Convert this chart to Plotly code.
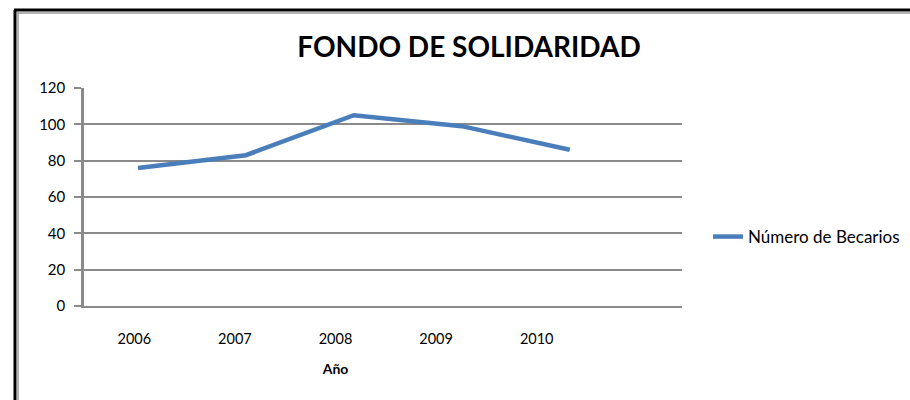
import plotly.graph_objects as go

years = ["2006", "2007", "2008", "2009", "2010"]
becarios = [76, 83, 105, 99, 86]
y_ticks = [0, 20, 40, 60, 80, 100, 120]

FONT = "Lato"
GRID = "#8a8a8a"
BLUE = "#4a7ebb"

# plot area in pixels (from the reference)
L, R, T, B = 84, 682, 88, 306
W, H = 910, 400


def px_x(px):
    return (px - L) / (R - L)


def px_y(py):
    return (B - py) / (B - T)


fig = go.Figure()
# category labels sit on their own (narrower) axis, as in the source chart
fig.add_trace(
    go.Scatter(
        x=years,
        y=becarios,
        xaxis="x",
        mode="markers",
        marker=dict(opacity=0),
        showlegend=False,
        hoverinfo="skip",
    )
)
fig.add_trace(
    go.Scatter(
        x=years,
        y=becarios,
        xaxis="x2",
        mode="lines",
        name="Número de Becarios",
        line=dict(color=BLUE, width=4.5),
    )
)

fig.update_layout(
    width=W,
    height=H,
    margin=dict(l=L, r=W - R, t=T, b=H - B, autoexpand=False),
    plot_bgcolor="rgba(0,0,0,0)",
    paper_bgcolor="white",
    font=dict(family=FONT, size=14, color="#000000"),
    title=dict(
        text="<b>FONDO DE SOLIDARIDAD</b>",
        font=dict(family=FONT, size=28, color="#000000"),
        x=469 / W,
        xanchor="center",
        y=1 - 47 / H,
        yanchor="middle",
    ),
    xaxis=dict(
        type="category",
        domain=[0, px_x(587)],
        range=[-0.5, 4.5],
        ticks="",
        ticklabelstandoff=22,
        showgrid=False,
        showline=False,
        zeroline=False,
        tickfont=dict(size=14.5),
        title=dict(text="<b>Año</b>", font=dict(size=14), standoff=18),
    ),
    xaxis2=dict(
        type="category",
        anchor="y",
        domain=[0, 1],
        range=[-0.5, 5.04],
        showticklabels=False,
        ticks="",
        showgrid=False,
        showline=True,
        linecolor=GRID,
        linewidth=2,
        zeroline=False,
    ),
    yaxis=dict(
        range=[0, 120],
        tickvals=y_ticks,
        ticks="outside",
        ticklen=7,
        tickwidth=2,
        tickcolor=GRID,
        ticklabelstandoff=6,
        showgrid=True,
        gridcolor=GRID,
        gridwidth=2,
        showline=True,
        linecolor=GRID,
        linewidth=2.5,
        zeroline=False,
        tickfont=dict(size=15),
    ),
    legend=dict(
        x=px_x(708),
        y=px_y(237),
        xanchor="left",
        yanchor="middle",
        font=dict(size=17),
        bgcolor="rgba(0,0,0,0)",
    ),
    showlegend=True,
    shapes=[
        dict(type="line", xref="paper", yref="paper",
             x0=px_x(15), x1=px_x(15), y0=px_y(10), y1=px_y(400),
             line=dict(color="#000000", width=3)),
        dict(type="line", xref="paper", yref="paper",
             x0=px_x(18), x1=px_x(18), y0=px_y(12), y1=px_y(400),
             line=dict(color="#9a9a9a", width=1.5)),
        dict(type="line", xref="paper", yref="paper",
             x0=px_x(14), x1=px_x(910), y0=px_y(10), y1=px_y(10),
             line=dict(color="#000000", width=3)),
        dict(type="line", xref="paper", yref="paper",
             x0=px_x(17), x1=px_x(910), y0=px_y(13), y1=px_y(13),
             line=dict(color="#9a9a9a", width=1.5)),
    ],
)

# drop the browser's default page margin so the figure sits at (0, 0)
fig.write_html(
    "out.html",
    config={"displayModeBar": False},
    post_script="document.body.style.margin='0';",
)
